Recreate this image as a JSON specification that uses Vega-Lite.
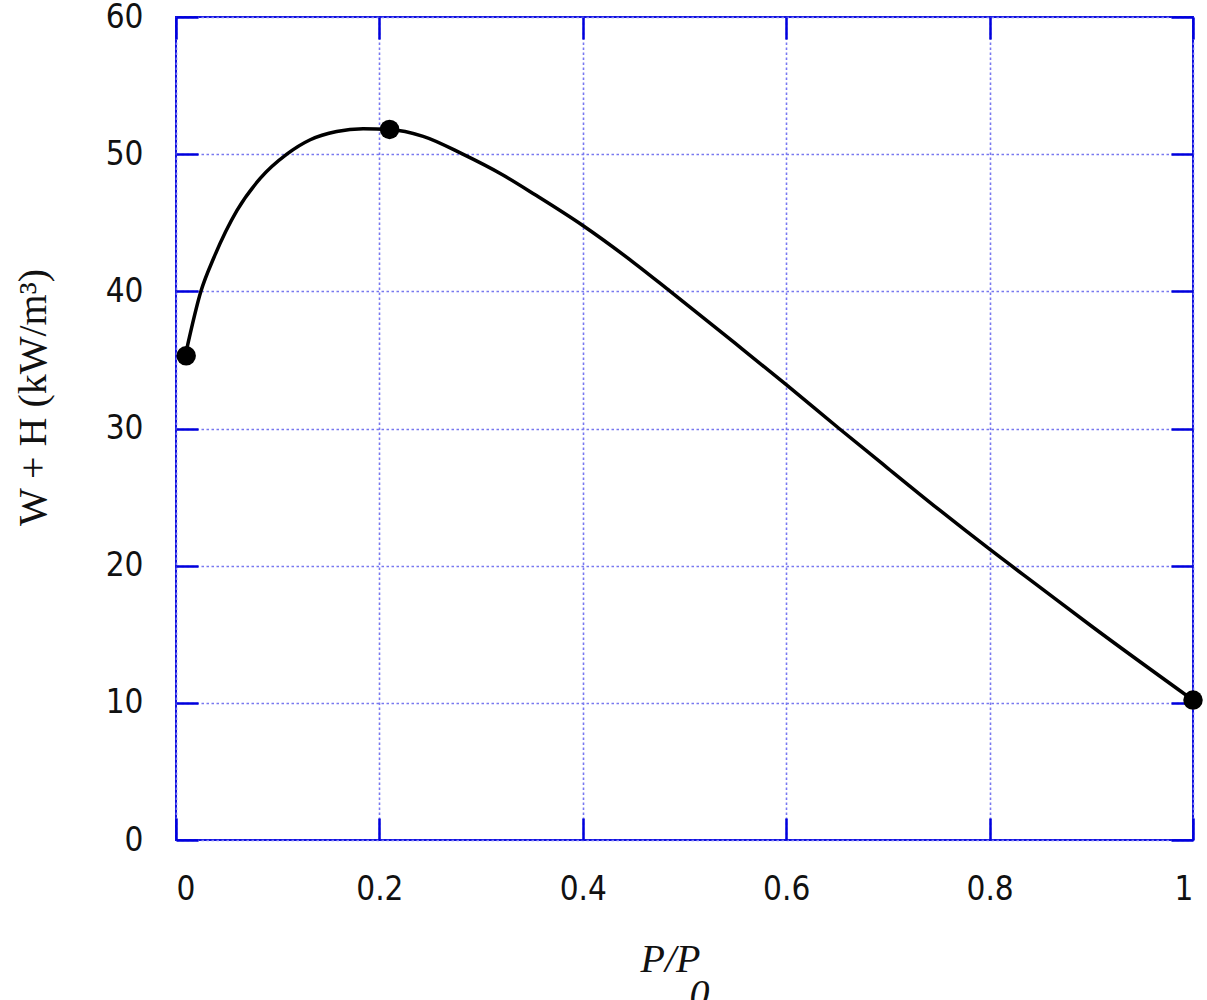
{
  "$schema": "https://vega.github.io/schema/vega-lite/v6.json",
  "width": 1017,
  "height": 823,
  "autosize": "none",
  "padding": {"left": 176, "top": 17, "right": 14, "bottom": 160},
  "background": "white",
  "config": {
    "view": {"stroke": "#1010e0", "strokeWidth": 2},
    "axis": {
      "labelFont": "DejaVu Sans Condensed, DejaVu Sans",
      "labelFontSize": 33,
      "labelColor": "#111111",
      "grid": true,
      "gridColor": "#7878f0",
      "gridDash": [2.5, 2.5],
      "gridWidth": 1.6,
      "domain": false,
      "tickColor": "#0000dd",
      "tickWidth": 2.5,
      "tickSize": -22,
      "titleFont": "Liberation Serif",
      "titleFontWeight": "normal",
      "titleColor": "#111111"
    }
  },
  "datasets": {
    "curve": [
      {"x": 0.01, "y": 35.6},
      {"x": 0.0245, "y": 40.0},
      {"x": 0.0375, "y": 42.5},
      {"x": 0.06, "y": 45.9},
      {"x": 0.083, "y": 48.25},
      {"x": 0.109, "y": 50.0},
      {"x": 0.132, "y": 51.05},
      {"x": 0.158, "y": 51.65},
      {"x": 0.184, "y": 51.85},
      {"x": 0.21, "y": 51.8},
      {"x": 0.243, "y": 51.3},
      {"x": 0.282, "y": 50.0},
      {"x": 0.321, "y": 48.5},
      {"x": 0.354, "y": 47.0},
      {"x": 0.4, "y": 44.8},
      {"x": 0.45, "y": 42.1},
      {"x": 0.486, "y": 40.0},
      {"x": 0.55, "y": 36.2},
      {"x": 0.6, "y": 33.2},
      {"x": 0.652, "y": 30.0},
      {"x": 0.7, "y": 27.1},
      {"x": 0.75, "y": 24.1},
      {"x": 0.8, "y": 21.2},
      {"x": 0.85, "y": 18.4},
      {"x": 0.9, "y": 15.6},
      {"x": 1.0, "y": 10.2}
    ],
    "pts": [
      {"x": 0.01, "y": 35.3},
      {"x": 0.21, "y": 51.8},
      {"x": 1.0, "y": 10.2}
    ]
  },
  "layer": [
    {
      "data": {"name": "curve"},
      "mark": {"type": "line", "color": "black", "strokeWidth": 3.5, "interpolate": "monotone"},
      "encoding": {
        "x": {
          "field": "x", "type": "quantitative",
          "scale": {"domain": [0, 1], "nice": false},
          "axis": {
            "values": [0, 0.2, 0.4, 0.6, 0.8, 1],
            "format": "~g",
            "labelPadding": 55,
            "title": ["P/P\u2800", "\u28000"],
            "titleFontStyle": "italic",
            "titleFontSize": 40,
            "titleLineHeight": 35,
            "titlePadding": 33
          }
        },
        "y": {
          "field": "y", "type": "quantitative",
          "scale": {"domain": [0, 60], "nice": false},
          "axis": {
            "values": [0, 10, 20, 30, 40, 50, 60],
            "labelPadding": 55,
            "title": "W + H (kW/m³)",
            "titleFontSize": 40,
            "titlePadding": 52,
            "titleY": 380
          }
        }
      }
    },
    {
      "data": {"name": "pts"},
      "mark": {"type": "circle", "color": "black", "opacity": 1, "size": 380},
      "encoding": {
        "x": {"field": "x", "type": "quantitative", "axis": {"orient": "top", "labels": false, "grid": false, "title": null, "values": [0, 0.2, 0.4, 0.6, 0.8, 1]}},
        "y": {"field": "y", "type": "quantitative", "axis": {"orient": "right", "labels": false, "grid": false, "title": null, "values": [0, 10, 20, 30, 40, 50, 60]}}
      }
    }
  ],
  "resolve": {"axis": {"x": "independent", "y": "independent"}}
}
